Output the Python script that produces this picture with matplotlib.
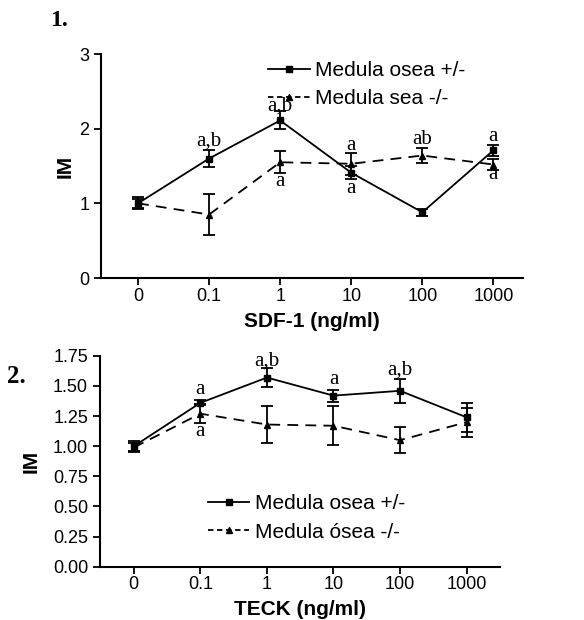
import matplotlib
matplotlib.use("Agg")
import matplotlib.pyplot as plt
from matplotlib.lines import Line2D

plt.rcParams['font.family'] = ['Liberation Sans', 'DejaVu Sans']

conc = ['0', '0.1', '1', '10', '100', '1000']

# panel 1: SDF-1
sdf_pos = [1.00, 1.60, 2.11, 1.41, 0.88, 1.71]
sdf_pos_err = [0.08, 0.12, 0.12, 0.09, 0.05, 0.07]
sdf_neg = [1.00, 0.85, 1.55, 1.53, 1.64, 1.52]
sdf_neg_err = [0.06, 0.28, 0.15, 0.15, 0.10, 0.08]
sdf_labels = [(1, 1.83, 'a,b'), (2, 2.30, 'a,b'), (2, 1.29, 'a'), (3, 1.78, 'a'),
              (3, 1.20, 'a'), (4, 1.86, 'ab'), (5, 1.90, 'a'), (5, 1.38, 'a')]

# panel 2: TECK
teck_pos = [1.00, 1.36, 1.57, 1.42, 1.46, 1.24]
teck_pos_err = [0.04, 0.02, 0.08, 0.05, 0.10, 0.12]
teck_neg = [0.99, 1.27, 1.18, 1.17, 1.05, 1.20]
teck_neg_err = [0.04, 0.08, 0.15, 0.16, 0.11, 0.12]
teck_labels = [(1, 1.47, 'a'), (1, 1.12, 'a'), (2, 1.71, 'a,b'), (3, 1.55, 'a'), (4, 1.63, 'a,b')]

fig = plt.figure(figsize=(5.84, 6.2), dpi=100)
ax1 = fig.add_axes([0.173, 0.5516, 0.723, 0.3613])
ax2 = fig.add_axes([0.171, 0.086, 0.685, 0.340])

serif = ['Liberation Serif', 'DejaVu Serif']


def panel(ax, pos, pos_err, neg, neg_err, labels, xlabel, ylim, yticks, yfmt, xlim):
    x = range(len(conc))
    ax.errorbar(x, pos, yerr=pos_err, color='black', lw=1.3, marker='s', ms=4.5,
                capsize=4, elinewidth=1.3, capthick=1.3, ls='-')
    ax.errorbar(x, neg, yerr=neg_err, color='black', lw=1.3, marker='^', ms=5,
                capsize=4, elinewidth=1.3, capthick=1.3, ls=(0, (6, 4)))
    for xi, yi, t in labels:
        ax.text(xi, yi, t, ha='center', va='center', fontsize=15, family=serif)
    ax.set_xlim(*xlim)
    ax.set_ylim(*ylim)
    ax.set_xticks(list(x))
    ax.set_xticklabels(conc)
    ax.set_yticks(yticks)
    ax.set_yticklabels([yfmt.format(v) for v in yticks])
    for s in ['top', 'right']:
        ax.spines[s].set_visible(False)
    for s in ['left', 'bottom']:
        ax.spines[s].set_linewidth(1.5)
    ax.tick_params(direction='out', length=5, width=1.3, labelsize=13)
    ax.tick_params(axis='x', pad=2)
    ax.set_xlabel(xlabel, fontsize=15, fontweight='bold', labelpad=5)
    ax.set_ylabel('IM', fontsize=15, fontweight='bold')


def legend_handles():
    return [Line2D([], [], color='black', lw=1.3, marker='s', ms=4),
            Line2D([], [], color='black', lw=1.3, marker='^', ms=4.5, ls=(0, (3, 2)))]


panel(ax1, sdf_pos, sdf_pos_err, sdf_neg, sdf_neg_err, sdf_labels, 'SDF-1 (ng/ml)',
      (0, 3), [0, 1, 2, 3], '{:g}', (-0.52, 5.42))
ax1.legend(legend_handles(), ['Medula osea +/-', 'Medula sea -/-'], loc='upper left',
           bbox_to_anchor=(0.351, 1.052), frameon=False, fontsize=15, handlelength=2.0,
           handletextpad=0.25, labelspacing=0.45)
ax1.yaxis.set_label_coords(-0.063, 0.5)

panel(ax2, teck_pos, teck_pos_err, teck_neg, teck_neg_err, teck_labels, 'TECK (ng/ml)',
      (0, 1.75), [0, 0.25, 0.5, 0.75, 1.0, 1.25, 1.5, 1.75], '{:.2f}', (-0.51, 5.5))
ax2.legend(legend_handles(), ['Medula osea +/-', 'Medula ósea -/-'], loc='upper left',
           bbox_to_anchor=(0.223, 0.432), frameon=False, fontsize=15, handlelength=2.0,
           handletextpad=0.25, labelspacing=0.45)
ax2.yaxis.set_label_coords(-0.148, 0.5)

fig.text(0.085, 0.967, '1.', fontsize=17, fontweight='bold', family=serif, va='center')
fig.text(0.012, 0.392, '2.', fontsize=18, fontweight='bold', family=serif, va='center')

fig.savefig('out.png', dpi=100)
